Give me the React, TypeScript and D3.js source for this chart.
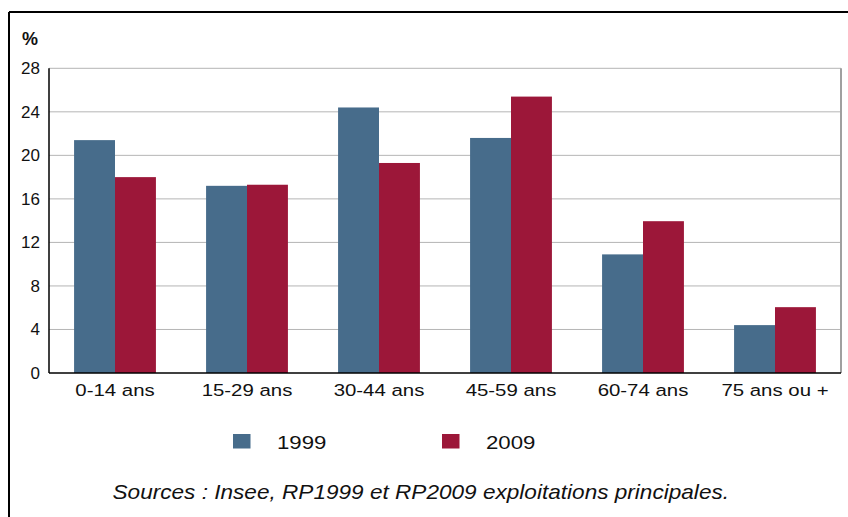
import React from "react";
import * as d3 from "d3";

const categories = ["0-14 ans", "15-29 ans", "30-44 ans", "45-59 ans", "60-74 ans", "75 ans ou +"];
const series1999 = [21.4, 17.2, 24.4, 21.6, 10.9, 4.4];
const series2009 = [18.0, 17.3, 19.3, 25.4, 13.95, 6.05];
const yTicks = [0, 4, 8, 12, 16, 20, 24, 28];
const seriesNames = ["1999", "2009"];
const colors = ["#476c8b", "#9c1739"];

const W = 848, H = 517;
const left = 49, right = 841, top = 68.3, bottom = 373;

export default function App() {
  const x = d3.scaleBand<string>().domain(categories).range([left, right]).paddingInner(0.38).paddingOuter(0.19);
  const xs = d3.scaleBand<string>().domain(seriesNames).range([0, x.bandwidth()]);
  const y = d3.scaleLinear().domain([0, 28]).range([bottom, top]);
  const font = "Liberation Sans, Arial, sans-serif";
  const data = [series1999, series2009];
  return (
    <svg width={W} height={H} style={{ position: "absolute", left: 0, top: 0, background: "#fff" }} fontFamily={font}>
      <rect x={0} y={0} width={W} height={H} fill="#fff" />
      {/* frame */}
      <line x1={9} x2={W} y1={12} y2={12} stroke="#000" strokeWidth={2} />
      <line x1={9} x2={9} y1={12} y2={H} stroke="#000" strokeWidth={2} />
      {/* grid */}
      {yTicks.filter(t => t > 0).map(t => (
        <line key={t} x1={left} x2={right} y1={y(t)} y2={y(t)} stroke="#b5b5b5" strokeWidth={1} />
      ))}
      <line x1={right} x2={right} y1={top} y2={bottom} stroke="#a0a0a0" strokeWidth={2} />
      {/* bars */}
      {data.map((vals, si) => vals.map((v, i) => (
        <rect key={si + "-" + i} x={(x(categories[i]) as number) + (xs(seriesNames[si]) as number)} y={y(v)}
          width={xs.bandwidth()} height={bottom - y(v)} fill={colors[si]} />
      )))}
      {/* axes */}
      <line x1={left} x2={left} y1={top} y2={bottom} stroke="#000" strokeWidth={1.5} />
      <line x1={left} x2={right} y1={bottom} y2={bottom} stroke="#000" strokeWidth={1.5} />
      {yTicks.map(t => (
        <text key={t} x={40} y={y(t)} dy="0.35em" textAnchor="end" fontSize={17} fill="#111">{t}</text>
      ))}
      <text x={22} y={45} fontSize={18} fontWeight="bold" fill="#111">%</text>
      {categories.map(c => (
        <g key={c} transform={`translate(${(x(c) as number) + x.bandwidth() / 2},396) scale(1.2,1)`}>
          <text x={0} y={0} textAnchor="middle" fontSize={17} fill="#111">{c}</text>
        </g>
      ))}
      {/* legend */}
      {seriesNames.map((s, i) => (
        <g key={s} transform={`translate(${i === 0 ? 233 : 442},0)`}>
          <rect x={0} y={434} width={17.5} height={14.5} fill={colors[i]} />
          <g transform="translate(44,448.5) scale(1.2,1)">
            <text x={0} y={0} fontSize={18.5} fill="#111">{s}</text>
          </g>
        </g>
      ))}
      <g transform="translate(112.5,499.3) scale(1.13,1)">
        <text x={0} y={0} fontSize={20} fontStyle="italic" fill="#111">Sources : Insee, RP1999 et RP2009 exploitations principales.</text>
      </g>
    </svg>
  );
}
